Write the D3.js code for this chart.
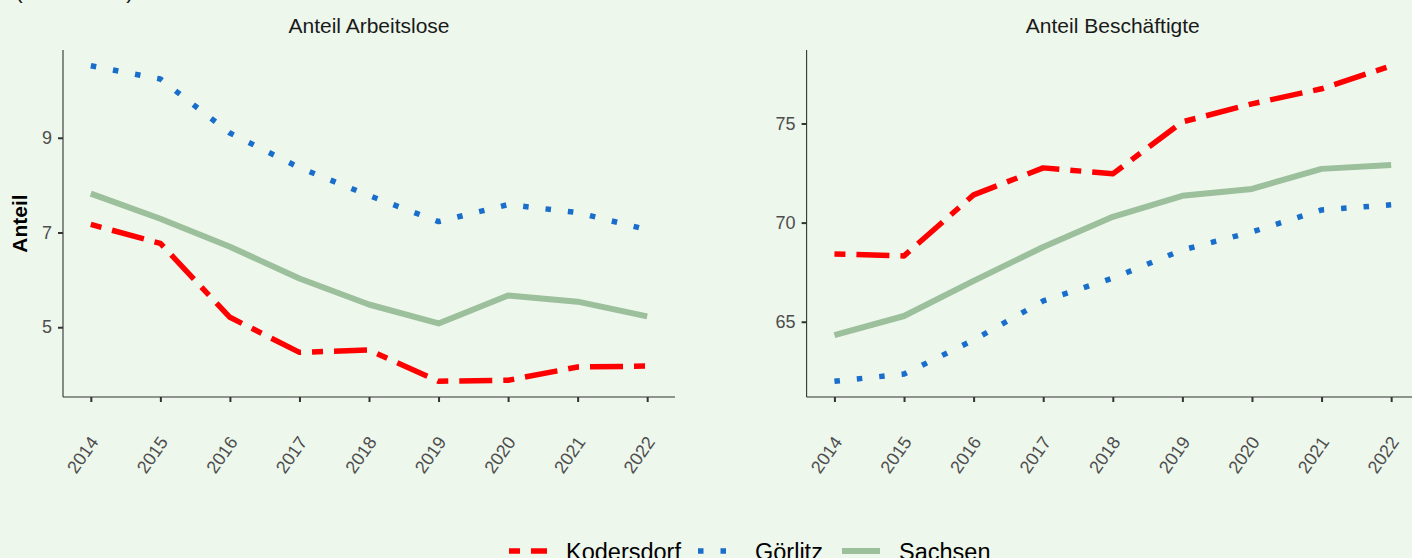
<!DOCTYPE html>
<html>
<head>
<meta charset="utf-8">
<script src="https://cdn.jsdelivr.net/npm/d3@7"></script>
<style>
  body { margin: 0; background: #edf7ec; }
  svg { display: block; font-family: "Liberation Sans", Arial, sans-serif; }
</style>
</head>
<body>
<div id="chart"></div>
<script>
const years = [2014, 2015, 2016, 2017, 2018, 2019, 2020, 2021, 2022];

// Anteil Arbeitslose
const alKodersdorf = [7.17, 6.77, 5.21, 4.47, 4.52, 3.86, 3.88, 4.16, 4.18];
const alGoerlitz = [10.52, 10.24, 9.10, 8.37, 7.78, 7.23, 7.59, 7.42, 7.06];
const alSachsen = [7.82, 7.29, 6.70, 6.03, 5.48, 5.08, 5.67, 5.54, 5.23];

// Anteil Beschäftigte
const beKodersdorf = [68.42, 68.32, 71.40, 72.76, 72.46, 75.08, 75.99, 76.75, 77.91];
const beGoerlitz = [62.00, 62.36, 64.08, 66.05, 67.20, 68.62, 69.53, 70.64, 70.90];
const beSachsen = [64.33, 65.29, 67.06, 68.77, 70.29, 71.35, 71.70, 72.71, 72.91];

const seriesNames = ["Kodersdorf", "Görlitz", "Sachsen"];
const alTicks = [5, 7, 9];
const beTicks = [65, 70, 75];

const styles = {
    "Kodersdorf": { color: "#ff0000", dash: "11,11,33,11", width: 5.5 },
    "Görlitz": { color: "#1a6ecb", dash: "5.5,17", width: 5.5 },
    "Sachsen": { color: "#9cbf9c", dash: null, width: 6 }
};

const width = 1412;
const height = 558;
const bg = "#edf7ec";

const svg = d3.select("#chart")
    .append("svg")
    .attr("width", width)
    .attr("height", height)
    .style("background-color", bg);

// subtitle, cut off at the top edge as in the original
svg.append("text")
    .attr("x", 15)
    .attr("y", -2)
    .style("font-size", "23px")
    .style("fill", "#1a1a1a")
    .text("(in Prozent)");

function drawPanel(opts) {
    const { left, right, top, bottom, title, values, ticks, yLabel } = opts;

    const all = values.flat();
    const span = d3.max(all) - d3.min(all);
    const y = d3.scaleLinear()
        .domain([d3.min(all) - span * 0.05, d3.max(all) + span * 0.05])
        .range([bottom, top]);

    const x = d3.scaleLinear()
        .domain([2014 - 0.4, 2022 + 0.4])
        .range([left, right]);

    const g = svg.append("g");

    g.append("text")
        .attr("x", (left + right) / 2)
        .attr("y", 33)
        .attr("text-anchor", "middle")
        .style("font-size", "21px")
        .style("fill", "#1a1a1a")
        .text(title);

    // y axis
    const yAxis = g.append("g")
        .attr("transform", `translate(${left},0)`)
        .call(d3.axisLeft(y).tickValues(ticks).tickSize(5).tickPadding(6).tickFormat(d3.format("d")));
    yAxis.select(".domain").attr("stroke", "#333").attr("stroke-width", 1.1).attr("d", `M0,${top}V${bottom}`);
    yAxis.selectAll(".tick line").attr("stroke", "#333").attr("stroke-width", 2);
    yAxis.selectAll(".tick text").style("font-size", "18px").attr("fill", "#4d4d4d").attr("font-family", null);

    // x axis
    const xAxis = g.append("g")
        .attr("transform", `translate(0,${bottom})`)
        .call(d3.axisBottom(x).tickValues(years).tickSize(5).tickFormat(d3.format("d")));
    xAxis.select(".domain").attr("stroke", "#333").attr("stroke-width", 1.1).attr("d", `M${left},0H${right}`);
    xAxis.selectAll(".tick line").attr("stroke", "#333").attr("stroke-width", 2);
    xAxis.selectAll(".tick text")
        .style("font-size", "18px")
        .attr("fill", "#4d4d4d")
        .attr("font-family", null)
        .attr("text-anchor", "end")
        .attr("dy", null)
        .attr("y", 0)
        .attr("transform", "translate(8,45) rotate(-55)");

    if (yLabel) {
        g.append("text")
            .attr("transform", `translate(26.5,${(top + bottom) / 2}) rotate(-90)`)
            .attr("text-anchor", "middle")
            .style("font-size", "21px")
            .style("font-weight", "bold")
            .style("fill", "#000")
            .text(yLabel);
    }

    const line = d3.line()
        .x((d, i) => x(years[i]))
        .y(d => y(d));

    // Sachsen first, then Görlitz, Kodersdorf on top
    [2, 1, 0].forEach(k => {
        const st = styles[seriesNames[k]];
        g.append("path")
            .datum(values[k])
            .attr("fill", "none")
            .attr("stroke", st.color)
            .attr("stroke-width", st.width)
            .attr("stroke-dasharray", st.dash)
            .attr("stroke-linecap", "butt")
            .attr("stroke-linejoin", "round")
            .attr("d", line);
    });
}

drawPanel({
    left: 63, right: 675, top: 50, bottom: 397,
    title: "Anteil Arbeitslose",
    values: [alKodersdorf, alGoerlitz, alSachsen],
    ticks: alTicks,
    yLabel: "Anteil"
});

drawPanel({
    left: 806.6, right: 1419, top: 50, bottom: 397,
    title: "Anteil Beschäftigte",
    values: [beKodersdorf, beGoerlitz, beSachsen],
    ticks: beTicks,
    yLabel: null
});

// legend
const legend = svg.append("g").attr("transform", "translate(0,551)");
const legendX = [509, 698, 842];
seriesNames.forEach((name, i) => {
    const st = styles[name];
    legend.append("line")
        .attr("x1", legendX[i])
        .attr("x2", legendX[i] + 38)
        .attr("y1", 0)
        .attr("y2", 0)
        .attr("stroke", st.color)
        .attr("stroke-width", st.width)
        .attr("stroke-dasharray", st.dash);
    legend.append("text")
        .attr("x", legendX[i] + 57)
        .attr("y", 9)
        .style("font-size", "23.5px")
        .style("fill", "#000")
        .text(name);
});
</script>
</body>
</html>
